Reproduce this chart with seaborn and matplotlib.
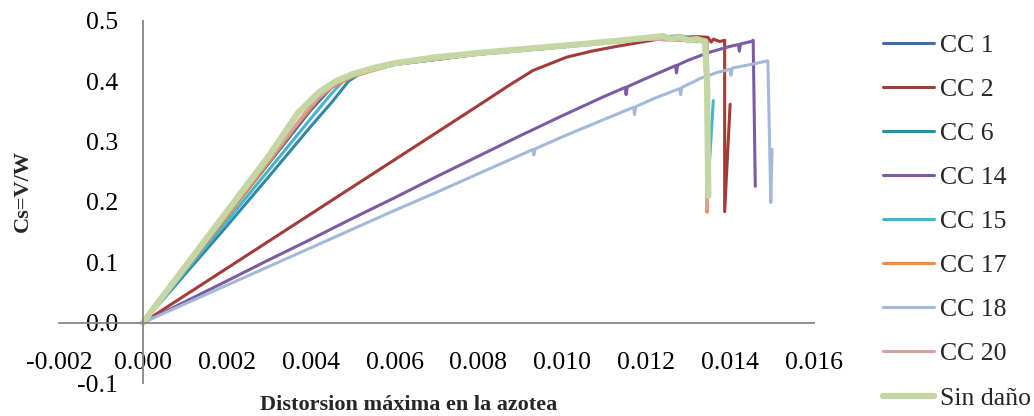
import matplotlib
matplotlib.use("Agg")
import matplotlib.pyplot as plt
import seaborn as sns

# data
sin_x = [0, 0.0010, 0.0020, 0.0030, 0.0037, 0.0042, 0.0046, 0.0050, 0.0055, 0.0060, 0.0070, 0.0080,
         0.0090, 0.0100, 0.0110, 0.0120, 0.0124, 0.0126, 0.0128, 0.0130, 0.0132, 0.0134, 0.01345, 0.01348]
sin_y = [0, 0.092, 0.184, 0.276, 0.348, 0.382, 0.400, 0.412, 0.422, 0.430, 0.440, 0.447,
         0.453, 0.459, 0.465, 0.472, 0.475, 0.470, 0.473, 0.468, 0.470, 0.466, 0.400, 0.210]

cc1_x = [0, 0.0010, 0.0020, 0.0030, 0.0040, 0.0045, 0.0050, 0.0060, 0.0080, 0.0100, 0.0120, 0.0130, 0.01345, 0.01345]
cc1_y = [0, 0.088, 0.176, 0.264, 0.352, 0.390, 0.410, 0.428, 0.445, 0.457, 0.470, 0.468, 0.465, 0.215]

cc2_x = [0, 0.001, 0.002, 0.003, 0.004, 0.005, 0.006, 0.007, 0.0080, 0.0087, 0.0093, 0.0101, 0.0107,
         0.0113, 0.0118, 0.0123, 0.0128, 0.0132, 0.01347, 0.01355, 0.0136, 0.01375, 0.01387, 0.01387, 0.0140]
cc2_y = [0, 0.045, 0.090, 0.135, 0.180, 0.225, 0.270, 0.315, 0.360, 0.392, 0.418, 0.440, 0.450,
         0.458, 0.464, 0.470, 0.473, 0.474, 0.473, 0.465, 0.470, 0.466, 0.468, 0.184, 0.362]

cc6_x = [0, 0.001, 0.002, 0.003, 0.004, 0.0045, 0.0049, 0.0052, 0.006, 0.008, 0.010, 0.012, 0.0128,
         0.0132, 0.01345, 0.01345, 0.01352]
cc6_y = [0, 0.080, 0.160, 0.242, 0.325, 0.365, 0.400, 0.414, 0.428, 0.445, 0.457, 0.470, 0.474,
         0.469, 0.465, 0.225, 0.320]

cc14_x = [0, 0.001, 0.002, 0.003, 0.004, 0.005, 0.006, 0.007, 0.008, 0.009, 0.0100, 0.0110, 0.0115,
          0.01152, 0.01155, 0.0120, 0.0125, 0.0127, 0.01272, 0.01275, 0.0130, 0.0135, 0.0140, 0.01420,
          0.01422, 0.01425, 0.0145, 0.01455, 0.0146]
cc14_y = [0, 0.0345, 0.069, 0.104, 0.138, 0.173, 0.207, 0.242, 0.276, 0.310, 0.343, 0.375, 0.390,
          0.378, 0.391, 0.405, 0.420, 0.426, 0.414, 0.427, 0.435, 0.448, 0.458, 0.461,
          0.450, 0.462, 0.466, 0.468, 0.226]

cc15_x = [0, 0.001, 0.002, 0.003, 0.004, 0.0045, 0.0048, 0.0055, 0.006, 0.008, 0.010, 0.012, 0.0128,
          0.0132, 0.01345, 0.01345, 0.0136]
cc15_y = [0, 0.084, 0.168, 0.253, 0.338, 0.380, 0.402, 0.420, 0.428, 0.445, 0.457, 0.470, 0.476,
          0.469, 0.465, 0.200, 0.368]

cc17_x = [0, 0.001, 0.002, 0.003, 0.0037, 0.0042, 0.0045, 0.0050, 0.006, 0.008, 0.010, 0.012, 0.013,
          0.01345, 0.01345, 0.01348]
cc17_y = [0, 0.087, 0.176, 0.266, 0.330, 0.372, 0.390, 0.408, 0.428, 0.445, 0.457, 0.470, 0.468,
          0.465, 0.183, 0.260]

cc18_x = [0, 0.001, 0.002, 0.003, 0.004, 0.005, 0.006, 0.007, 0.008, 0.0093, 0.00932, 0.00935, 0.0100,
          0.0110, 0.0117, 0.01172, 0.01175, 0.0122, 0.0128, 0.01282, 0.01285, 0.0133, 0.0137, 0.0140,
          0.01402, 0.01405, 0.0145, 0.0149, 0.01497, 0.0150]
cc18_y = [0, 0.031, 0.062, 0.093, 0.124, 0.155, 0.186, 0.216, 0.247, 0.287, 0.278, 0.288, 0.308,
          0.337, 0.357, 0.345, 0.358, 0.372, 0.388, 0.378, 0.390, 0.405, 0.415, 0.420,
          0.410, 0.422, 0.428, 0.434, 0.199, 0.287]

cc20_x = [0, 0.001, 0.002, 0.003, 0.004, 0.0045, 0.005, 0.006, 0.008, 0.010, 0.012, 0.013, 0.01345, 0.01345]
cc20_y = [0, 0.090, 0.180, 0.270, 0.360, 0.393, 0.410, 0.428, 0.445, 0.457, 0.470, 0.468, 0.465, 0.188]

series = [
    ("CC 1", cc1_x, cc1_y, "#3F6FAA", 2.2),
    ("CC 2", cc2_x, cc2_y, "#A33C38", 2.2),
    ("CC 6", cc6_x, cc6_y, "#2F8AA2", 2.2),
    ("CC 14", cc14_x, cc14_y, "#7B5CA3", 2.2),
    ("CC 15", cc15_x, cc15_y, "#4BB2CE", 2.2),
    ("CC 17", cc17_x, cc17_y, "#F38A3C", 2.2),
    ("CC 18", cc18_x, cc18_y, "#A4B9DA", 2.2),
    ("CC 20", cc20_x, cc20_y, "#D8A09F", 2.2),
    ("Sin daño", sin_x, sin_y, "#C3D6A4", 4.5),
]

sns.set_style("white")
plt.rcParams["font.family"] = ["Liberation Serif", "DejaVu Serif"]
plt.rcParams["axes.unicode_minus"] = False

fig = plt.figure(figsize=(10.34, 4.16), dpi=100)
ax = fig.add_axes([59 / 1034, 1 - 383 / 416, 755 / 1034, 362 / 416])

for name, xs, ys, col, lw in series:
    sns.lineplot(x=xs, y=ys, sort=False, estimator=None, color=col, lw=lw, label=name, ax=ax,
                 solid_joinstyle="round", solid_capstyle="round")

ax.set_xlim(-0.002, 0.016)
ax.set_ylim(-0.1, 0.5)
ax.set_xticks([-0.002, 0.0, 0.002, 0.004, 0.006, 0.008, 0.010, 0.012, 0.014, 0.016])
ax.set_xticklabels(["-0.002", "0.000", "0.002", "0.004", "0.006", "0.008", "0.010", "0.012", "0.014", "0.016"])
ax.set_yticks([-0.1, 0.0, 0.1, 0.2, 0.3, 0.4, 0.5])
ax.set_yticklabels(["-0.1", "0.0", "0.1", "0.2", "0.3", "0.4", "0.5"])

for s in ["top", "right"]:
    ax.spines[s].set_visible(False)
ax.spines["left"].set_position(("data", 0))
ax.spines["bottom"].set_position(("data", 0))
for s in ["left", "bottom"]:
    ax.spines[s].set_color("#868686")
    ax.spines[s].set_linewidth(1.3)
ax.tick_params(axis="x", length=0, pad=21, labelsize=18.5, colors="black")
ax.tick_params(axis="y", length=0, pad=18, labelsize=18.5, colors="black")

ax.set_xlabel("Distorsion máxima en la azotea", fontsize=16, fontweight="bold")
ax.set_ylabel("Cs=V/W", fontsize=16, fontweight="bold")
ax.xaxis.set_label_coords(0.4636, -0.033)
ax.yaxis.set_label_coords(-0.0344, 0.53)

ax.legend(loc="upper left", bbox_to_anchor=(883 / 1034, 0.918), bbox_transform=fig.transFigure,
          frameon=False, fontsize=18.5, borderpad=0, handlelength=2.0, handletextpad=0.2,
          labelspacing=0.82, borderaxespad=0)

fig.savefig("out.png", dpi=100)
